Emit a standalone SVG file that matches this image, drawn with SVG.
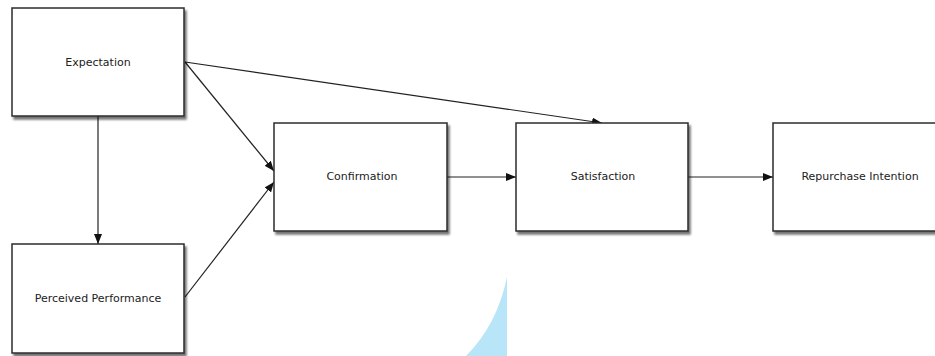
<svg xmlns="http://www.w3.org/2000/svg" width="935" height="356" viewBox="0 0 935 356">
<style>
.box{fill:#fff;stroke:#2b2b2b;stroke-width:1.5;filter:url(#sh)}
.lbl{font-family:"DejaVu Sans",sans-serif;font-size:11px;fill:#222;text-anchor:middle;dominant-baseline:central}
.con{stroke:#222;stroke-width:1.2;fill:none;marker-end:url(#ah)}
</style>
<defs>
<filter id="sh" x="-10%" y="-10%" width="125%" height="125%">
<feGaussianBlur in="SourceAlpha" stdDeviation="1.2"/>
<feOffset dx="1.5" dy="2.5" result="b"/>
<feComponentTransfer><feFuncA type="linear" slope="0.55"/></feComponentTransfer>
<feMerge><feMergeNode/><feMergeNode in="SourceGraphic"/></feMerge>
</filter>
<marker id="ah" viewBox="0 0 10 8" refX="10" refY="4" markerWidth="10" markerHeight="8" markerUnits="userSpaceOnUse" orient="auto">
<path d="M0,0 L10,4 L0,8 Z" fill="#111"/>
</marker>
</defs>
<rect width="935" height="356" fill="#fff"/>
<path d="M507,277 L507,356 L466,356 Q497,325 507,277 Z" fill="#b8e6f8"/>
<g id="connectors">
<line class="con" x1="98" y1="116" x2="98" y2="244"/>
<line class="con" x1="185" y1="62" x2="274" y2="171"/>
<line class="con" x1="185" y1="297" x2="274" y2="182"/>
<line class="con" x1="185" y1="62" x2="602" y2="123"/>
<line class="con" x1="447" y1="177" x2="516" y2="177"/>
<line class="con" x1="688" y1="177" x2="773" y2="177"/>
</g>
<g id="expectation"><rect class="box" x="12" y="8" width="172" height="108"/><text class="lbl" x="98" y="62">Expectation</text></g>
<g id="perceived"><rect class="box" x="12" y="244" width="172" height="109"/><text class="lbl" x="98" y="298">Perceived Performance</text></g>
<g id="confirmation"><rect class="box" x="274" y="123" width="173" height="108"/><text class="lbl" x="362" y="176">Confirmation</text></g>
<g id="satisfaction"><rect class="box" x="516" y="123" width="172" height="108"/><text class="lbl" x="603" y="176">Satisfaction</text></g>
<g id="repurchase"><rect class="box" x="773" y="123" width="175" height="108"/><text class="lbl" x="860" y="176">Repurchase Intention</text></g>
</svg>
